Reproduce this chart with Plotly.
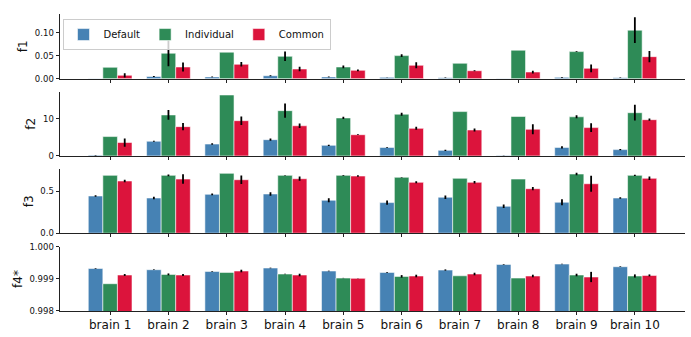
import plotly.graph_objects as go
from plotly.subplots import make_subplots

## CATEGORIES AND SERIES ##
brains = [f"brain {i}" for i in range(1, 11)]
methods = ["Default", "Individual", "Common"]
colors = ["#4682B4", "#2E8B57", "#DC143C"]
metrics = ["f1", "f2", "f3", "f4*"]

f1_default = [0.0005, 0.005, 0.004, 0.0066, 0.004, 0.003, 0.002, 0.0005, 0.003, 0.002]
f1_default_err = [0, 0.001, 0.001, 0.001, 0.001, 0.0005, 0.0005, 0, 0.001, 0.0005]
f1_individual = [0.025, 0.0557, 0.058, 0.049, 0.0257, 0.0505, 0.0338, 0.0623, 0.0592, 0.106]
f1_individual_err = [0, 0.0285, 0, 0.0103, 0.003, 0.003, 0, 0, 0.001, 0.028]
f1_common = [0.0075, 0.0257, 0.0316, 0.0213, 0.0184, 0.0294, 0.0175, 0.0147, 0.0228, 0.0482]
f1_common_err = [0.0047, 0.01, 0.005, 0.005, 0.002, 0.0065, 0.001, 0.003, 0.0084, 0.0124]

f2_default = [0.2, 3.95, 3.2, 4.37, 2.85, 2.3, 1.5, 0.1, 2.3, 1.7]
f2_default_err = [0.05, 0.15, 0.2, 0.3, 0.15, 0.1, 0.15, 0.05, 0.3, 0.2]
f2_individual = [5.2, 11.0, 16.35, 12.15, 10.2, 11.2, 11.9, 10.6, 10.5, 11.6]
f2_individual_err = [0, 1.3, 0, 1.9, 0.3, 0.4, 0, 0, 0.4, 2.1]
f2_common = [3.6, 7.86, 9.46, 8.1, 5.7, 7.4, 6.97, 7.15, 7.6, 9.73]
f2_common_err = [1.1, 0.95, 1.15, 0.6, 0.1, 0.4, 0.4, 1.35, 1.2, 0.3]

f3_default = [0.444, 0.42, 0.464, 0.468, 0.393, 0.365, 0.429, 0.321, 0.369, 0.42]
f3_default_err = [0.008, 0.015, 0.01, 0.02, 0.025, 0.025, 0.02, 0.02, 0.036, 0.008]
f3_individual = [0.69, 0.69, 0.714, 0.69, 0.69, 0.667, 0.655, 0.646, 0.706, 0.69]
f3_individual_err = [0, 0.01, 0, 0.003, 0.005, 0.003, 0, 0, 0.015, 0.008]
f3_common = [0.623, 0.646, 0.638, 0.65, 0.682, 0.607, 0.607, 0.531, 0.59, 0.655]
f3_common_err = [0.015, 0.057, 0.05, 0.025, 0.01, 0.012, 0.015, 0.02, 0.095, 0.02]

f4_default = [0.99933, 0.99929, 0.999238, 0.999344, 0.99925, 0.999207, 0.99928, 0.999457, 0.999468, 0.999384]
f4_default_err = [0.00001, 0.00001, 0.00001, 0.00001, 0.00001, 0.00001, 0.00002, 0.00001, 0.00001, 0.00001]
f4_individual = [0.998853, 0.999144, 0.999207, 0.999156, 0.99903, 0.999082, 0.9991, 0.99903, 0.999125, 0.999094]
f4_individual_err = [0, 0.00003, 0, 0.00001, 0.000005, 0.00004, 0, 0, 0.00004, 0.00005]
f4_common = [0.999125, 0.999125, 0.99925, 0.999125, 0.99902, 0.999094, 0.999156, 0.999094, 0.999063, 0.999113]
f4_common_err = [0.00003, 0.00003, 0.00004, 0.00004, 0.000005, 0.00004, 0.00004, 0.00004, 0.00016, 0.00003]

data = [
    [(f1_default, f1_default_err), (f1_individual, f1_individual_err), (f1_common, f1_common_err)],
    [(f2_default, f2_default_err), (f2_individual, f2_individual_err), (f2_common, f2_common_err)],
    [(f3_default, f3_default_err), (f3_individual, f3_individual_err), (f3_common, f3_common_err)],
    [(f4_default, f4_default_err), (f4_individual, f4_individual_err), (f4_common, f4_common_err)],
]

## BUILD FIGURE ##
fig = make_subplots(rows=4, cols=1, shared_xaxes=True)
for row, panel in enumerate(data, start=1):
    for (vals, errs), name, color in zip(panel, methods, colors):
        fig.add_trace(go.Bar(
            x=brains, y=vals, name=name, marker_color=color,
            marker_line=dict(color="rgba(255,255,255,0.7)", width=0.8),
            error_y=dict(type="data", array=errs, color="black", thickness=1.8, width=0),
            showlegend=(row == 1),
        ), row=row, col=1)

domains = [[0.782, 1.0], [0.522, 0.738], [0.262, 0.477], [0.0, 0.2155]]
y_ranges = [[0, 0.1413], [0, 17.2], [0, 0.762], [0.998, 1.0]]
y_dticks = [0.05, 10, 0.5, 0.001]
y_formats = [".2f", "d", ".1f", ".3f"]

axis_font = dict(family="DejaVu Sans", size=8.5, color="#111111")
for i in range(4):
    fig.update_yaxes(
        domain=domains[i], range=y_ranges[i], dtick=y_dticks[i], tick0=y_ranges[i][0],
        tickformat=y_formats[i], showgrid=False, zeroline=False,
        showline=True, linecolor="#222222", linewidth=1, automargin=False,
        ticks="outside", ticklen=3.5, tickcolor="#222222", tickfont=axis_font,
        title=dict(text=metrics[i], font=dict(family="DejaVu Sans", size=12, color="#111111"), standoff=4),
        row=i + 1, col=1)
    fig.update_xaxes(
        range=[-0.86, 9.86], showgrid=False, showline=True, linecolor="#222222", linewidth=1,
        ticks="outside", ticklen=3, tickcolor="#222222", automargin=False,
        tickfont=dict(family="DejaVu Sans", size=12, color="#111111"),
        row=i + 1, col=1)

fig.update_layout(
    width=691, height=337,
    margin=dict(l=60, r=6, t=14, b=26),
    barmode="group", bargap=0.25, bargroupgap=0,
    plot_bgcolor="white", paper_bgcolor="white",
    font=dict(family="DejaVu Sans", color="#111111"),
    legend=dict(orientation="h", x=0.004, y=0.983, xanchor="left", yanchor="top",
                bgcolor="rgba(255,255,255,0.8)", bordercolor="#cccccc", borderwidth=1,
                font=dict(family="DejaVu Sans", size=10), itemwidth=30,
                tracegroupgap=0),
)

## WRITE HTML (REMOVE DEFAULT PAGE MARGIN, NO MODEBAR) ##
fig.write_html("out.html", config={"displayModeBar": False},
               post_script="document.body.style.margin='0px';")
